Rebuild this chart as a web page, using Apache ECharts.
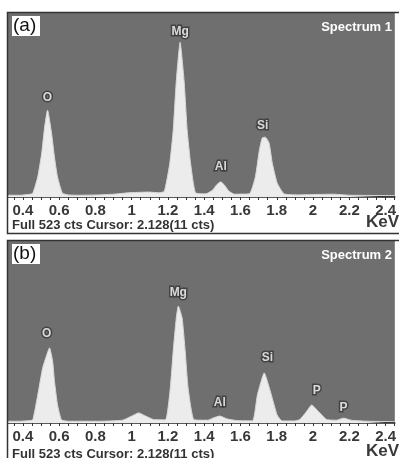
<!DOCTYPE html>
<html>
<head>
<meta charset="utf-8">
<script src="https://cdn.jsdelivr.net/npm/echarts@6/dist/echarts.min.js"></script>
<style>
  html, body { margin: 0; padding: 0; background: #fff; }
  #chart { width: 399px; height: 458px; }
</style>
</head>
<body>
<div id="chart"></div>
<script>
// energy (keV) / counts
const specAEnergy = [0.318, 0.384, 0.440, 0.455, 0.482, 0.504, 0.520, 0.536, 0.558, 0.574, 0.591, 0.618, 0.650, 0.711, 0.820, 0.900, 0.984, 1.093, 1.150, 1.180, 1.210, 1.229, 1.246, 1.267, 1.289, 1.306, 1.325, 1.352, 1.409, 1.447, 1.469, 1.491, 1.513, 1.535, 1.567, 1.649, 1.682, 1.704, 1.720, 1.737, 1.758, 1.775, 1.802, 1.840, 1.911, 2.113, 2.200, 2.451];
const specACounts = [5, 5, 8, 11, 57, 125, 199, 247, 182, 114, 57, 11, 6, 5, 6, 8, 12, 14, 12, 16, 95, 190, 330, 440, 330, 190, 95, 12, 9, 20, 35, 43, 33, 17, 8, 9, 57, 133, 168, 170, 153, 97, 40, 9, 6, 8, 5, 4];

const specBEnergy = [0.318, 0.384, 0.440, 0.455, 0.482, 0.509, 0.531, 0.547, 0.564, 0.574, 0.591, 0.613, 0.650, 0.820, 0.950, 1.001, 1.038, 1.077, 1.120, 1.186, 1.213, 1.229, 1.246, 1.257, 1.278, 1.295, 1.311, 1.344, 1.420, 1.447, 1.486, 1.524, 1.580, 1.666, 1.693, 1.731, 1.764, 1.802, 1.829, 1.900, 1.927, 1.960, 1.993, 2.026, 2.075, 2.129, 2.168, 2.211, 2.300, 2.451];
const specBCounts = [5, 5, 7, 9, 80, 158, 195, 216, 178, 121, 52, 9, 5, 5, 8, 20, 29, 20, 10, 9, 101, 207, 302, 336, 302, 207, 101, 9, 8, 14, 20, 12, 7, 6, 80, 144, 92, 23, 6, 6, 10, 30, 52, 35, 10, 8, 14, 8, 5, 4];

// element labels above the peaks
const peakNamesA = ['O', 'Mg', 'Al', 'Si'];
const peakEnergyA = [0.536, 1.267, 1.491, 1.722];
const peakLabelA = [281, 471, 85, 204];

const peakNamesB = ['O', 'Mg', 'Al', 'Si', 'P', 'P'];
const peakEnergyB = [0.531, 1.257, 1.486, 1.748, 2.021, 2.168];
const peakLabelB = [256, 374, 57, 187, 92, 43];

const tickLabels = [0.4, 0.6, 0.8, 1, 1.2, 1.4, 1.6, 1.8, 2, 2.2, 2.4];
const panelNames = ['(a)', '(b)'];
const spectrumNames = ['Spectrum 1', 'Spectrum 2'];
const footerText = 'Full 523 cts Cursor: 2.128(11 cts)';
const fullScale = 523;

const minorTicks = [];
for (let v = 0.35; v < 2.46; v += 0.05) minorTicks.push(Math.round(v * 100) / 100);

const FONT = '"Liberation Sans", Arial, sans-serif';

function zip(xs, ys) {
  return xs.map((x, i) => [x, ys[i]]);
}

function xAxis(gridIndex) {
  return {
    type: 'value',
    gridIndex: gridIndex,
    min: 0.318,
    max: 2.451,
    splitLine: { show: false },
    axisLine: { show: true, onZero: false, lineStyle: { color: '#222', width: 1.5 } },
    axisTick: { show: true, customValues: minorTicks, length: 3, lineStyle: { color: '#333' } },
    axisLabel: {
      customValues: tickLabels,
      margin: 6,
      color: '#383838',
      fontSize: 15,
      fontWeight: 'bold',
      fontFamily: FONT,
      formatter: v => String(v)
    }
  };
}

function yAxis(gridIndex) {
  return {
    type: 'value',
    gridIndex: gridIndex,
    min: 0,
    max: fullScale,
    show: false,
    splitLine: { show: false }
  };
}

function spectrum(data, i) {
  return {
    type: 'line',
    xAxisIndex: i,
    yAxisIndex: i,
    data: data,
    showSymbol: false,
    smooth: 0.15,
    lineStyle: { color: '#d8d8d8', width: 1 },
    areaStyle: { color: '#ececec', opacity: 1 },
    silent: true,
    z: 2
  };
}

function peakLabels(names, xs, ys, i) {
  return {
    type: 'scatter',
    xAxisIndex: i,
    yAxisIndex: i,
    symbolSize: 0,
    data: xs.map((x, k) => ({ value: [x, ys[k]], name: names[k] })),
    label: {
      show: true,
      position: 'inside',
      formatter: p => p.name,
      color: '#fff',
      fontSize: 12,
      fontWeight: 'bold',
      fontFamily: FONT,
      textBorderColor: 'rgba(50,50,50,0.9)',
      textBorderWidth: 3
    },
    z: 5
  };
}

function panelGraphics(top, bottom, k) {
  return [
    {
      type: 'rect',
      shape: { x: 7.5, y: top + 0.5, width: 400, height: bottom - top },
      style: { fill: 'none', stroke: '#333', lineWidth: 1.5 },
      z: 10
    },
    {
      type: 'rect',
      shape: { x: 12, y: top + 4, width: 28, height: 20 },
      style: { fill: '#fff' },
      z: 11
    },
    {
      type: 'text',
      x: 13,
      y: top + 14,
      style: { text: panelNames[k], fill: '#111', fontSize: 19, fontFamily: FONT, verticalAlign: 'middle' },
      z: 12
    },
    {
      type: 'text',
      x: 392,
      y: top + 15,
      style: { text: spectrumNames[k], fill: '#fff', fontSize: 13, fontWeight: 'bold', fontFamily: FONT, align: 'right', verticalAlign: 'middle' },
      z: 12
    },
    {
      type: 'text',
      x: 12,
      y: bottom - 8,
      style: { text: footerText, fill: '#333', fontSize: 13, fontWeight: 'bold', fontFamily: FONT, verticalAlign: 'middle' },
      z: 12
    },
    {
      type: 'text',
      x: 399,
      y: bottom - 11,
      style: { text: 'KeV', fill: '#3a3a3a', fontSize: 17, fontWeight: 'bold', fontFamily: FONT, align: 'right', verticalAlign: 'middle' },
      z: 12
    }
  ];
}

const chart = echarts.init(document.getElementById('chart'), null, { renderer: 'canvas' });

chart.setOption({
  animation: false,
  backgroundColor: '#fff',
  grid: [
    { left: 8, top: 13, width: 391, height: 184, show: true, backgroundColor: '#6f6f6f', borderWidth: 0 },
    { left: 8, top: 241, width: 391, height: 182, show: true, backgroundColor: '#6f6f6f', borderWidth: 0 }
  ],
  xAxis: [xAxis(0), xAxis(1)],
  yAxis: [yAxis(0), yAxis(1)],
  series: [
    spectrum(zip(specAEnergy, specACounts), 0),
    spectrum(zip(specBEnergy, specBCounts), 1),
    peakLabels(peakNamesA, peakEnergyA, peakLabelA, 0),
    peakLabels(peakNamesB, peakEnergyB, peakLabelB, 1)
  ],
  graphic: panelGraphics(12, 233, 0).concat(panelGraphics(240, 462, 1))
});
</script>
</body>
</html>
